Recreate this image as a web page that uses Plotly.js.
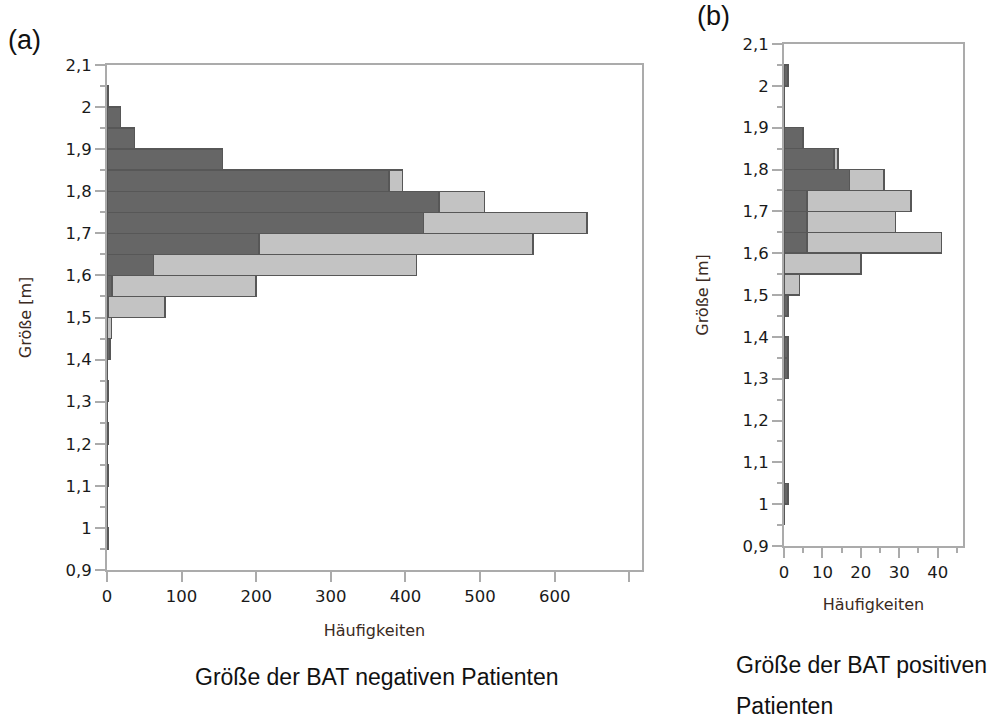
<!DOCTYPE html>
<html>
<head>
<meta charset="utf-8">
<script src="https://cdn.plot.ly/plotly-3.0.1.min.js"></script>
<style>
html,body{margin:0;padding:0;background:#fff;}
#chart{width:1002px;height:718px;}
</style>
</head>
<body>
<div id="chart"></div>
<script>
// Bin lower edges (height in m), bin width 0.05
const binEdges = [2.00,1.95,1.90,1.85,1.80,1.75,1.70,1.65,1.60,1.55,1.50,1.45,1.40,1.35,1.30,1.25,1.20,1.15,1.10,1.05,1.00,0.95];
// (a) BAT negative: dark (lower) and light (upper) stacked segments
const negDark  = [2,18,37,155,378,445,424,204,62,7,2,0,4,0,2,0,2,0,2,0,0,2];
const negLight = [0,0,0,0,18,61,219,367,353,193,76,6,0,0,0,0,0,0,0,0,0,0];
// (b) BAT positive
const posDark  = [1,0,0,5,13,17,6,6,6,0,0,1,0,1,1,0,0,0,0,0,1,0];
const posLight = [0,0,0,0,1,9,27,23,35,20,4,0,0,0,0,0,0,0,0,0,0,0];

const yTickVals = [0.9,1.0,1.1,1.2,1.3,1.4,1.5,1.6,1.7,1.8,1.9,2.0,2.1];
const yTickText = ["0,9","1","1,1","1,2","1,3","1,4","1,5","1,6","1,7","1,8","1,9","2","2,1"];
const xTickValsA = [0,100,200,300,400,500,600,700];
const xTickTextA = ["0","100","200","300","400","500","600",""];
const xTickValsB = [0,10,20,30,40];
const xTickTextB = ["0","10","20","30","40"];

const DARK = '#666666', LIGHT = '#c3c3c3', EDGE = '#575757';
function bars(x, color, xa, ya){
  return {type:'bar', orientation:'h', y:binEdges, x:x, width:0.05, offset:0,
    xaxis:xa, yaxis:ya, marker:{color:color, line:{color:EDGE, width:1.5}},
    showlegend:false, hoverinfo:'x+y'};
}
const data = [
  bars(negDark, DARK, 'x','y'), bars(negLight, LIGHT, 'x','y'),
  bars(posDark, DARK, 'x2','y2'), bars(posLight, LIGHT, 'x2','y2')
];

const W=1002, H=718;
const FAM = '"DejaVu Sans", "Noto Sans", sans-serif';
const tickFont = {family:FAM, size:16.5, color:'#1a1a1a'};
const titleFont = {family:FAM, size:16, color:'#3a2a22'};
const capFont = {family:'"Liberation Sans", Arial, sans-serif', size:23, color:'#111'};
const axBase = {showline:true, mirror:true, linecolor:'#ababab', linewidth:2, showgrid:false, zeroline:false,
  ticks:'outside', tickcolor:'#ababab', tickwidth:2, tickfont:tickFont, fixedrange:true, automargin:false};

const layout = {
  width:W, height:H, margin:{l:0,r:0,t:0,b:0}, paper_bgcolor:'#fff', plot_bgcolor:'#fff',
  barmode:'stack', bargap:0,
  xaxis: Object.assign({}, axBase, {domain:[107/W, 642/W], range:[0,717], tickvals:xTickValsA, ticktext:xTickTextA,
     ticklen:10, anchor:'y', title:{text:'Häufigkeiten', font:titleFont, standoff:20}}),
  yaxis: Object.assign({}, axBase, {domain:[1-570/H, 1-65/H], range:[0.9,2.1], tickvals:yTickVals, ticktext:yTickText,
     ticklen:10, anchor:'x', minor:{ticks:'outside', dtick:0.05, tick0:0.9, ticklen:5, tickcolor:'#ababab', tickwidth:2},
     title:{text:'Größe [m]', font:titleFont, standoff:30}}),
  xaxis2: Object.assign({}, axBase, {domain:[784/W, 963/W], range:[0,46.6], tickvals:xTickValsB, ticktext:xTickTextB,
     ticklen:10, anchor:'y2', minor:{ticks:'outside', dtick:5, tick0:0, ticklen:5, tickcolor:'#ababab', tickwidth:2},
     title:{text:'Häufigkeiten', font:titleFont, standoff:18}}),
  yaxis2: Object.assign({}, axBase, {domain:[1-546/H, 1-44/H], range:[0.9,2.1], tickvals:yTickVals, ticktext:yTickText,
     ticklen:10, anchor:'x2', minor:{ticks:'outside', dtick:0.05, tick0:0.9, ticklen:5, tickcolor:'#ababab', tickwidth:2},
     title:{text:'Größe [m]', font:titleFont, standoff:30}}),
  annotations:[
    {text:'(a)', x:6/W, y:1-40/H, xref:'paper', yref:'paper', xanchor:'left', yanchor:'middle', showarrow:false,
     font:{family:'"Liberation Sans", Arial, sans-serif', size:27, color:'#111'}},
    {text:'(b)', x:695/W, y:1-16/H, xref:'paper', yref:'paper', xanchor:'left', yanchor:'middle', showarrow:false,
     font:{family:'"Liberation Sans", Arial, sans-serif', size:27, color:'#111'}},
    {text:'Größe der BAT negativen Patienten', x:377/W, y:1-677/H, xref:'paper', yref:'paper', xanchor:'center', yanchor:'middle', showarrow:false,
     font:capFont},
    {text:'Größe der BAT positiven', x:734/W, y:1-665/H, xref:'paper', yref:'paper', xanchor:'left', yanchor:'middle', showarrow:false,
     font:capFont},
    {text:'Patienten', x:734/W, y:1-706/H, xref:'paper', yref:'paper', xanchor:'left', yanchor:'middle', showarrow:false,
     font:capFont}
  ]
};
Plotly.newPlot('chart', data, layout, {displayModeBar:false, staticPlot:true});
</script>
</body>
</html>
